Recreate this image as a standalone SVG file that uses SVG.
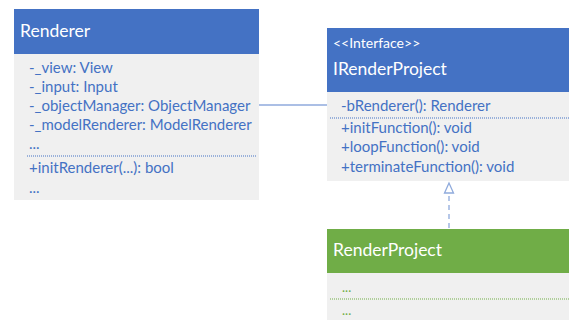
<svg xmlns="http://www.w3.org/2000/svg" width="569" height="320" viewBox="0 0 569 320">
<style>
text{font-family:Lato,"Open Sans","Liberation Sans",sans-serif}
.hdr{fill:#4472C4}
.body{fill:#F0F0F0}
.title{fill:#fff;font-size:17.5px}
.st{fill:#fff;font-size:14px}
.m{fill:#4472C4;font-size:15px}
.g{fill:#70AD47;font-size:13px}
.sep{stroke:#4472C4;stroke-width:1;stroke-dasharray:1 1}
.gsep{stroke:#70AD47;stroke-width:1;stroke-dasharray:1 1}
.conn{stroke:#8FAADC;stroke-width:1.3;fill:none}
</style>
<rect width="569" height="320" fill="#fff"/>
<g id="Renderer">
<rect class="hdr" x="14" y="9" width="245" height="45"/>
<rect class="body" x="14" y="54" width="245" height="146"/>
<text class="title" x="20" y="37">Renderer</text>
<text class="m" x="29" y="73">-_view: View</text>
<text class="m" x="29" y="92">-_input: Input</text>
<text class="m" x="29" y="111">-_objectManager: ObjectManager</text>
<text class="m" x="29" y="130">-_modelRenderer: ModelRenderer</text>
<text class="m" x="29" y="149">...</text>
<line class="sep" x1="27" y1="156" x2="256" y2="156"/>
<text class="m" x="29" y="173">+initRenderer(...): bool</text>
<text class="m" x="29" y="193">...</text>
</g>
<g id="IRenderProject">
<rect class="hdr" x="327" y="28" width="242" height="64"/>
<rect class="body" x="327" y="92" width="242" height="89"/>
<text class="st" x="333" y="48">&lt;&lt;Interface&gt;&gt;</text>
<text class="title" x="333" y="75">IRenderProject</text>
<text class="m" x="341" y="111">-bRenderer(): Renderer</text>
<line class="sep" x1="330" y1="118" x2="569" y2="118"/>
<text class="m" x="341" y="133">+initFunction(): void</text>
<text class="m" x="341" y="152">+loopFunction(): void</text>
<text class="m" x="341" y="172">+terminateFunction(): void</text>
</g>
<g id="RenderProject">
<rect x="327" y="229" width="242" height="44" fill="#70AD47"/>
<rect class="body" x="327" y="273" width="242" height="47"/>
<text class="title" x="333" y="256">RenderProject</text>
<text class="g" x="342" y="292">...</text>
<line class="gsep" x1="330" y1="299" x2="569" y2="299"/>
<text class="g" x="342" y="315">...</text>
</g>
<g id="connectors">
<line class="conn" x1="259" y1="105" x2="327" y2="105"/>
<line class="conn" x1="449" y1="228" x2="449" y2="193" stroke-dasharray="5 4"/>
<polygon class="conn" points="449,183 444.5,193 453.5,193"/>
</g>
</svg>
